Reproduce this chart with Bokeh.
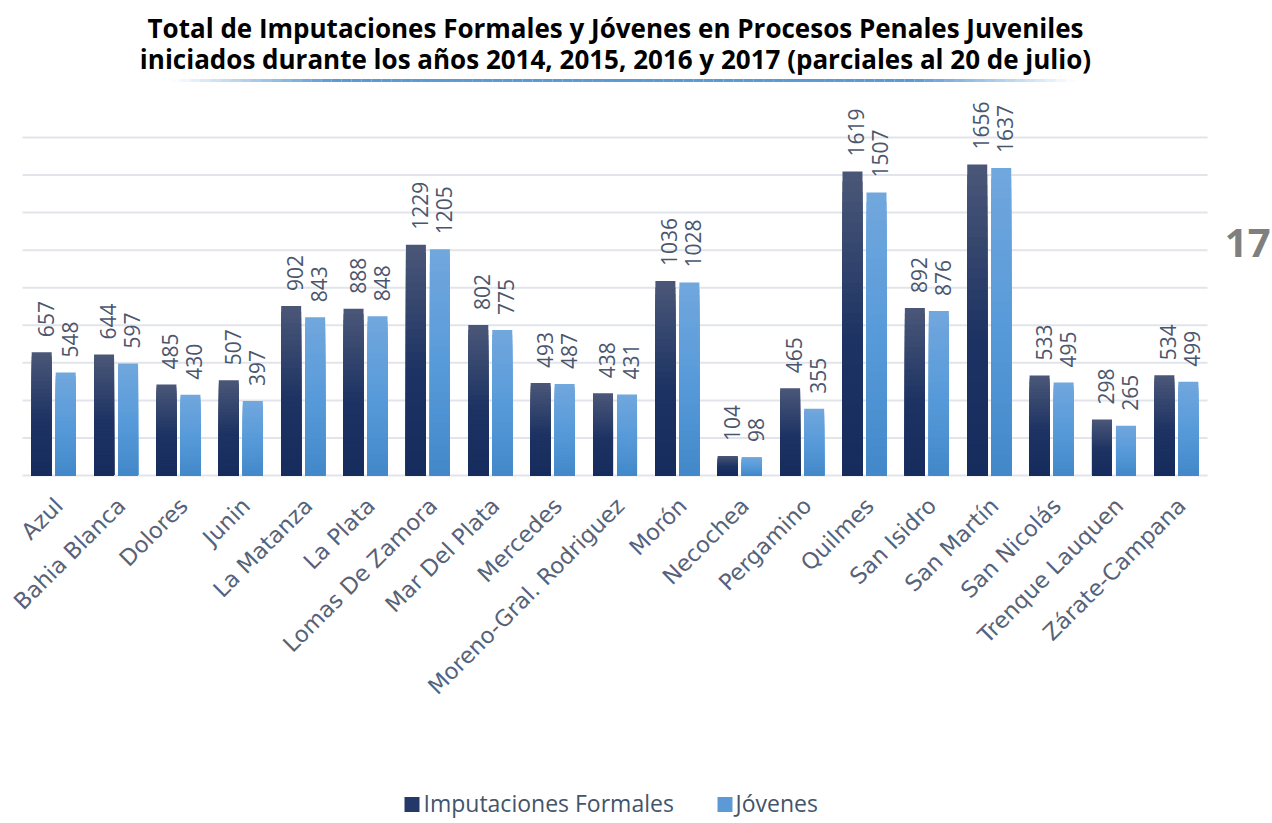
import numpy as np
from bokeh.plotting import figure
from bokeh.models import Range1d
from bokeh.core.properties import value
from bokeh.embed import file_html
from bokeh.resources import INLINE

# ---------------- data ----------------
categories = ["Azul", "Bahia Blanca", "Dolores", "Junin", "La Matanza", "La Plata",
              "Lomas De Zamora", "Mar Del Plata", "Mercedes", "Moreno-Gral. Rodriguez",
              "Morón", "Necochea", "Pergamino", "Quilmes", "San Isidro", "San Martín",
              "San Nicolás", "Trenque Lauquen", "Zárate-Campana"]
imputaciones = [657, 644, 485, 507, 902, 888, 1229, 802, 493, 438, 1036, 104, 465,
                1619, 892, 1656, 533, 298, 534]
jovenes = [548, 597, 430, 397, 843, 848, 1205, 775, 487, 431, 1028, 98, 355,
           1507, 876, 1637, 495, 265, 499]
grid_values = [0, 200, 400, 600, 800, 1000, 1200, 1400, 1600, 1800]
series_names = ["Imputaciones Formales", "Jóvenes"]
title_lines = ["Total de Imputaciones Formales y Jóvenes en Procesos Penales Juveniles",
               "iniciados durante los años 2014, 2015, 2016 y 2017 (parciales al 20 de julio)"]
page_number = "17"

# ---------------- layout (page pixels) ----------------
W, H = 1272, 823
PAGE_OFF = 0
PLOT_LEFT = 22.0
CAT_W = 62.37
BASE_Y = 475.0
TOP_Y = 137.0
PPU = (BASE_Y - TOP_Y) / grid_values[-1]


def px(page_x):
    return (page_x - PLOT_LEFT) / CAT_W


def py(page_y):
    return (BASE_Y - page_y) / PPU


def dx(pixels):
    return pixels / CAT_W


def dy(pixels):
    return pixels / PPU


p = figure(width=W, height=H, output_backend="svg", toolbar_location=None,
           x_range=Range1d(px(PAGE_OFF), px(PAGE_OFF + W)),
           y_range=Range1d(py(PAGE_OFF + H), py(PAGE_OFF)),
           x_axis_location=None, y_axis_location=None, min_border=0)
p.outline_line_color = None
p.background_fill_color = "white"
p.border_fill_color = "white"
p.xgrid.visible = False
p.ygrid.visible = False

n = len(categories)
centers = np.arange(n) + 0.5

# gridlines
p.segment(x0=[0] * len(grid_values), x1=[n] * len(grid_values),
          y0=grid_values, y1=grid_values, line_color="#e1e5eb", line_width=2)


def lerp_colors(stops, t):
    for (t0, c0), (t1, c1) in zip(stops[:-1], stops[1:]):
        if t <= t1:
            f = (t - t0) / (t1 - t0) if t1 > t0 else 0
            c = [int(round(a + (b - a) * f)) for a, b in zip(c0, c1)]
            return "#%02x%02x%02x" % tuple(c)
    return "#%02x%02x%02x" % tuple(stops[-1][1])


dark_stops = [(0.0, (75, 87, 120)), (0.55, (29, 51, 99)), (1.0, (22, 44, 92))]
light_stops = [(0.0, (113, 167, 221)), (0.5, (88, 155, 218)), (1.0, (66, 136, 201))]

BAR_W = dx(20)
OFF = dx(12)
NSL = 30
vals_d = np.array(imputaciones, dtype=float)
vals_l = np.array(jovenes, dtype=float)
for k in range(NSL):
    frac = 1 - k / NSL
    t = (k + 0.5) / NSL
    p.vbar(x=centers - OFF, width=BAR_W, bottom=0, top=vals_d * frac,
           fill_color=lerp_colors(dark_stops, t), line_color=None)
    p.vbar(x=centers + OFF, width=BAR_W, bottom=0, top=vals_l * frac,
           fill_color=lerp_colors(light_stops, t), line_color=None)

# value labels
LBL_COLOR = "#4b566e"
p.text(x=centers - OFF + dx(4), y=vals_d + dy(15), text=[str(v) for v in imputaciones],
       angle=np.pi / 2, text_align="left", text_baseline="middle",
       text_font=value("Open Sans"), text_font_size="21px", text_color=LBL_COLOR)
p.text(x=centers + OFF + dx(4), y=vals_l + dy(15), text=[str(v) for v in jovenes],
       angle=np.pi / 2, text_align="left", text_baseline="middle",
       text_font=value("Open Sans"), text_font_size="21px", text_color=LBL_COLOR)

# category labels
p.text(x=centers - dx(4), y=[py(492)] * n, text=categories, angle=np.pi / 4,
       text_align="right", text_baseline="top", text_font=value("DejaVu Sans"),
       text_font_size="22.5px", text_color="#56627a")

# title
p.text(x=[px(615)] * 2, y=[py(27), py(58)], text=title_lines, text_align="center",
       text_baseline="middle", text_font=value("Open Sans"), text_font_style="bold",
       text_font_size="26px", text_color="#000000")

# title underline with faded ends
ux = np.linspace(170, 1075, 91)
mid = 0.5 * (ux[:-1] + ux[1:])
alphas = np.clip(np.minimum(mid - 170, 1075 - mid) / 160.0, 0, 1)
p.segment(x0=[px(v) for v in ux[:-1]], x1=[px(v) for v in ux[1:]],
          y0=[py(80)] * len(mid), y1=[py(80)] * len(mid),
          line_color="#5b9bd5", line_alpha=list(alphas), line_width=3)

# page number
p.text(x=[px(1270)], y=[py(242)], text=[page_number], text_align="right",
       text_baseline="middle", text_font=value("Open Sans"), text_font_style="bold",
       text_font_size="40px", text_color="#7f7f7f")

# legend
p.scatter(x=[px(411.5), px(724.5)], y=[py(804)] * 2, marker="square", size=15,
          fill_color=["#24396a", "#5c9ad6"], line_color=None)
p.text(x=[px(423), px(735)], y=[py(802)] * 2, text=series_names, text_align="left",
       text_baseline="middle", text_font=value("Open Sans"), text_font_size="23px",
       text_color="#44546a")

open("out.html", "w").write(file_html(p, INLINE))
